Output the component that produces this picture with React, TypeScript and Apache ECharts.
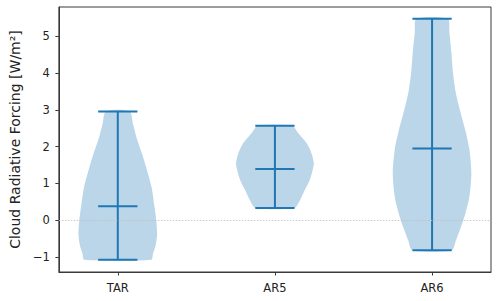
import React, { useEffect, useRef } from "react";
import * as echarts from "echarts";

const categories = ["TAR", "AR5", "AR6"];
const positions = [1, 2, 3];
const minValues = [-1.08, 0.33, -0.82];
const maxValues = [2.96, 2.57, 5.48];
const meanValues = [0.38, 1.39, 1.95];
const yTicks = [-1, 0, 1, 2, 3, 4, 5];

// violin outlines: levels (y values) and relative half-widths (1 = widest)
const tarLevels = [-1.08, -0.9, -0.7, -0.4, 0.0, 0.4, 0.9, 1.3, 1.8, 2.2, 2.6, 2.96];
const tarWidths = [0.85, 0.9, 0.96, 1.0, 0.98, 0.93, 0.86, 0.76, 0.62, 0.49, 0.39, 0.3];
const ar5Levels = [0.33, 0.55, 0.82, 1.05, 1.32, 1.55, 1.82, 2.09, 2.37, 2.57];
const ar5Widths = [0.49, 0.64, 0.76, 0.87, 0.95, 0.99, 0.93, 0.81, 0.59, 0.44];
const ar6Levels = [-0.82, -0.54, -0.17, 0.19, 0.64, 1.28, 1.92, 2.43, 2.95, 3.49, 4.04, 4.58, 5.12, 5.48];
const ar6Widths = [0.5, 0.61, 0.74, 0.85, 0.95, 1.0, 0.95, 0.85, 0.72, 0.6, 0.53, 0.49, 0.44, 0.4];

const profiles = [
  { levels: tarLevels, widths: tarWidths },
  { levels: ar5Levels, widths: ar5Widths },
  { levels: ar6Levels, widths: ar6Widths },
];

const BLUE = "#1f77b4";
const FILL = "rgba(31,119,180,0.3)";
const FONT = "DejaVu Sans";

export default function App() {
  const ref = useRef<HTMLDivElement>(null);
  useEffect(() => {
    const chart = echarts.init(ref.current!, null, { renderer: "svg" });
    const halfMax = 0.25;
    const capHalf = 0.125;
    const fmtNum = (v: number) => (v < 0 ? "\u2212" + Math.abs(v) : String(v));
    chart.setOption({
      animation: false,
      backgroundColor: "#ffffff",
      grid: {
        left: 56,
        right: 9,
        top: 7,
        bottom: 29,
        show: true,
        borderColor: "#3a3a3a",
        borderWidth: 1,
        backgroundColor: "transparent",
      },
      xAxis: {
        type: "value",
        min: 0.625,
        max: 3.375,
        splitLine: { show: false },
        axisLine: { show: true, onZero: false, lineStyle: { color: "#3a3a3a", width: 1 } },
        axisTick: {
          show: true,
          customValues: positions,
          length: 3.5,
          lineStyle: { color: "#3a3a3a", width: 1 },
        },
        axisLabel: {
          customValues: positions,
          margin: 10,
          fontFamily: FONT,
          fontSize: 11.5,
          color: "#222",
          formatter: (v: number) => categories[positions.indexOf(v)] ?? "",
        },
      },
      yAxis: {
        type: "value",
        min: -1.41,
        max: 5.8,
        splitLine: { show: false },
        axisLine: { show: true, onZero: false, lineStyle: { color: "#3a3a3a", width: 1 } },
        axisTick: {
          show: true,
          customValues: yTicks,
          length: 3.5,
          lineStyle: { color: "#3a3a3a", width: 1 },
        },
        axisLabel: {
          customValues: yTicks,
          margin: 9,
          fontFamily: FONT,
          fontSize: 11.5,
          color: "#222",
          formatter: (v: number) => fmtNum(v),
        },
        name: "Cloud Radiative Forcing [W/m\u00b2]",
        nameLocation: "middle",
        nameGap: 33,
        nameTextStyle: { fontFamily: FONT, fontSize: 14, color: "#222" },
      },
      series: [
        {
          type: "line",
          data: [],
          silent: true,
          markLine: {
            silent: true,
            symbol: "none",
            label: { show: false },
            lineStyle: { color: "#bbbbbb", width: 0.8, type: [1.5, 1.5] },
            data: [{ yAxis: 0 }],
          },
        },
        {
          type: "custom",
          coordinateSystem: "cartesian2d",
          silent: true,
          data: positions.map((p, i) => [p, meanValues[i]]),
          renderItem: (params: any, api: any) => {
            const pos = api.value(0);
            const i = positions.indexOf(pos);
            const prof = profiles[i];
            const left: number[][] = [];
            const right: number[][] = [];
            for (let k = 0; k < prof.levels.length; k++) {
              left.push(api.coord([pos - prof.widths[k] * halfMax, prof.levels[k]]));
              right.push(api.coord([pos + prof.widths[k] * halfMax, prof.levels[k]]));
            }
            const pts = left.concat(right.reverse());
            const lineStyle = { stroke: BLUE, lineWidth: 2 };
            const hline = (y: number) => {
              const a = api.coord([pos - capHalf, y]);
              const b = api.coord([pos + capHalf, y]);
              return {
                type: "line",
                shape: { x1: a[0], y1: a[1], x2: b[0], y2: b[1] },
                style: lineStyle,
              };
            };
            const top = api.coord([pos, maxValues[i]]);
            const bot = api.coord([pos, minValues[i]]);
            return {
              type: "group",
              children: [
                {
                  type: "polygon",
                  shape: { points: pts, smooth: 0.25 },
                  style: { fill: FILL, stroke: "none" },
                },
                {
                  type: "line",
                  shape: { x1: top[0], y1: top[1], x2: bot[0], y2: bot[1] },
                  style: lineStyle,
                },
                hline(maxValues[i]),
                hline(minValues[i]),
                hline(meanValues[i]),
              ],
            };
          },
        },
      ],
    });
    return () => chart.dispose();
  }, []);
  return (
    <div
      ref={ref}
      style={{ position: "fixed", left: 0, top: 0, width: 500, height: 301, background: "#fff" }}
    />
  );
}
